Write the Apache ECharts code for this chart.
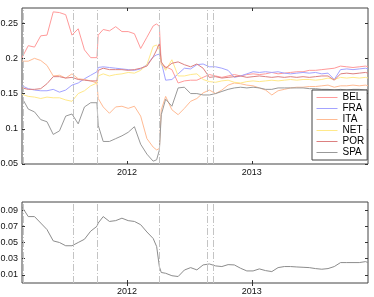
<!DOCTYPE html>
<html><head><meta charset="utf-8">
<script src="https://cdn.jsdelivr.net/npm/echarts@6/dist/echarts.min.js"></script>
<style>html,body{margin:0;padding:0;background:#fff}#c{width:374px;height:297px}</style>
</head><body><div id="c"></div>
<script>
// decimal years
const dates = [2011.16,2011.21,2011.26,2011.31,2011.36,2011.41,2011.46,2011.51,2011.56,2011.61,2011.66,2011.71,2011.76,2011.77,2011.81,2011.86,2011.91,2011.96,2012.01,2012.06,2012.11,2012.16,2012.21,2012.238,2012.26,2012.275,2012.31,2012.36,2012.41,2012.46,2012.51,2012.56,2012.61,2012.66,2012.71,2012.76,2012.81,2012.86,2012.91,2012.96,2013.01,2013.06,2013.11,2013.16,2013.21,2013.26,2013.31,2013.36,2013.41,2013.46,2013.51,2013.56,2013.61,2013.66,2013.71,2013.76,2013.81,2013.86,2013.91,2013.93];
const bel = [0.201,0.218,0.216,0.232,0.233,0.266,0.265,0.262,0.233,0.242,0.212,0.201,0.201,0.233,0.241,0.239,0.245,0.238,0.238,0.235,0.214,0.230,0.246,0.249,0.245,0.191,0.188,0.184,0.165,0.168,0.169,0.169,0.173,0.177,0.175,0.173,0.175,0.177,0.175,0.177,0.178,0.177,0.178,0.180,0.178,0.179,0.180,0.181,0.181,0.183,0.183,0.184,0.185,0.186,0.189,0.188,0.187,0.188,0.189,0.188];
const fra = [0.161,0.157,0.155,0.154,0.154,0.156,0.152,0.155,0.162,0.165,0.171,0.176,0.181,0.187,0.188,0.187,0.186,0.185,0.184,0.183,0.185,0.191,0.202,0.205,0.206,0.195,0.169,0.170,0.178,0.186,0.185,0.191,0.192,0.188,0.188,0.186,0.183,0.173,0.175,0.178,0.181,0.180,0.181,0.180,0.181,0.179,0.178,0.179,0.180,0.179,0.180,0.178,0.179,0.170,0.184,0.185,0.184,0.185,0.186,0.185];
const ita = [0.196,0.196,0.200,0.197,0.190,0.175,0.176,0.172,0.178,0.171,0.170,0.168,0.165,0.143,0.131,0.122,0.131,0.132,0.129,0.132,0.118,0.086,0.074,0.070,0.072,0.127,0.146,0.127,0.120,0.129,0.139,0.143,0.151,0.155,0.150,0.155,0.162,0.165,0.164,0.162,0.161,0.158,0.155,0.148,0.154,0.156,0.158,0.159,0.159,0.160,0.160,0.161,0.162,0.159,0.161,0.161,0.162,0.161,0.162,0.161];
const net = [0.149,0.146,0.145,0.143,0.145,0.144,0.144,0.141,0.139,0.150,0.154,0.161,0.165,0.175,0.178,0.175,0.177,0.178,0.180,0.179,0.183,0.191,0.217,0.219,0.212,0.193,0.183,0.198,0.175,0.175,0.177,0.178,0.170,0.167,0.166,0.168,0.169,0.166,0.165,0.167,0.168,0.167,0.168,0.169,0.168,0.169,0.170,0.169,0.170,0.170,0.169,0.170,0.172,0.170,0.173,0.172,0.173,0.172,0.173,0.172];
const por = [0.158,0.156,0.156,0.157,0.164,0.174,0.174,0.172,0.173,0.170,0.169,0.168,0.168,0.183,0.186,0.184,0.184,0.184,0.183,0.184,0.186,0.189,0.202,0.212,0.221,0.195,0.186,0.193,0.195,0.191,0.188,0.192,0.186,0.173,0.174,0.172,0.173,0.174,0.175,0.173,0.174,0.175,0.174,0.173,0.174,0.173,0.174,0.173,0.174,0.173,0.174,0.175,0.175,0.169,0.178,0.179,0.178,0.179,0.180,0.179];
const spa = [0.144,0.128,0.124,0.113,0.110,0.092,0.097,0.118,0.121,0.107,0.131,0.137,0.137,0.105,0.082,0.082,0.086,0.090,0.095,0.103,0.078,0.064,0.054,0.056,0.070,0.120,0.142,0.132,0.158,0.159,0.150,0.150,0.148,0.148,0.150,0.153,0.156,0.158,0.159,0.158,0.159,0.158,0.156,0.156,0.158,0.158,0.158,0.158,0.158,0.157,0.157,0.156,0.156,0.155,0.156,0.155,0.156,0.156,0.155,0.156];
const low = [0.094,0.082,0.082,0.074,0.066,0.052,0.050,0.046,0.046,0.050,0.054,0.064,0.070,0.074,0.082,0.076,0.077,0.080,0.077,0.076,0.072,0.063,0.055,0.045,0.020,0.013,0.012,0.009,0.008,0.016,0.019,0.0162,0.0223,0.0235,0.0211,0.0203,0.0227,0.0223,0.0182,0.0149,0.0149,0.0174,0.0153,0.0141,0.019,0.0203,0.0203,0.0198,0.0194,0.019,0.0178,0.017,0.0178,0.0203,0.0252,0.0252,0.0252,0.0252,0.0264,0.0252];
const events = [2011.168,2011.568,2011.76,2012.261,2012.637,2012.693];
const names = ['BEL','FRA','ITA','NET','POR','SPA'];
const colors = ['#ff9a9a','#a3a3ff','#ffbb94','#ffe98a','#dc8080','#999999'];
const xTicks = [2012, 2013];
const yTicksTop = [0.05, 0.1, 0.15, 0.2, 0.25];
const yTicksBot = [0.01, 0.03, 0.05, 0.07, 0.09];

const FONT = '"Liberation Sans", Arial, sans-serif';
const axCol = '#333';
function xAx(g, pos, showLab){
  return {gridIndex:g, type:'value', position:pos, min:2011.16, max:2013.93,
    axisLine:{show:false},
    axisTick:{show:true, inside:true, length:3, customValues:xTicks, lineStyle:{color:axCol}},
    axisLabel:{show:showLab, customValues:xTicks, margin:4, fontSize:9, fontFamily:FONT, color:'#111',
      formatter:v=>String(Math.round(v))},
    splitLine:{show:false}};
}
function yAx(g, pos, showLab, mn, mx, ticks){
  return {gridIndex:g, type:'value', position:pos, min:mn, max:mx,
    axisLine:{show:false},
    axisTick:{show:true, inside:true, length:3, customValues:ticks, lineStyle:{color:axCol}},
    axisLabel:{show:showLab, customValues:ticks, margin:4, fontSize:9, fontFamily:FONT, color:'#111',
      formatter:v=>String(v)},
    splitLine:{show:false}};
}
const zip = arr => dates.map((d,i)=>[d, arr[i]]);
const dataSets = [bel, fra, ita, net, por, spa];
const evLine = g => ({type:'line', xAxisIndex:g*2, yAxisIndex:g*2, data:[], silent:true,
  markLine:{silent:true, symbol:['none','none'], label:{show:false}, animation:false,
    lineStyle:{color:'#c4c4c4', width:1, type:[7,2,1,2]},
    data: events.map(e=>({xAxis:e}))}});
const series = [evLine(0)];
names.forEach((n,k)=>series.push({type:'line', name:n, xAxisIndex:0, yAxisIndex:0, data:zip(dataSets[k]),
  showSymbol:false, symbol:'none', color:colors[k], lineStyle:{width:1, color:colors[k]}, itemStyle:{color:colors[k]}}));
series.push(evLine(1));
series.push({type:'line', name:'low', xAxisIndex:2, yAxisIndex:2, data:zip(low), showSymbol:false, symbol:'none',
  lineStyle:{width:1, color:'#8c8c8c'}});

const chart = echarts.init(document.getElementById('c'), null, {renderer:'canvas'});
chart.setOption({
  animation:false,
  backgroundColor:'#fff',
  textStyle:{fontFamily:FONT},
  grid:[
    {left:22, top:8, width:346, height:156, show:true, borderColor:'#444', borderWidth:1, backgroundColor:'transparent', outerBoundsMode:'none', containLabel:false},
    {left:22, top:202, width:346, height:81, show:true, borderColor:'#444', borderWidth:1, backgroundColor:'transparent', outerBoundsMode:'none', containLabel:false}
  ],
  xAxis:[xAx(0,'bottom',true), xAx(0,'top',false), xAx(1,'bottom',true), xAx(1,'top',false)],
  yAxis:[yAx(0,'left',true,0.05,0.2715,yTicksTop), yAx(0,'right',false,0.05,0.2715,yTicksTop),
         yAx(1,'left',true,0,0.1,yTicksBot), yAx(1,'right',false,0,0.1,yTicksBot)],
  legend:{data:names,
    orient:'vertical', left:312, top:90, padding:[2,3,2,4], itemWidth:21, itemHeight:11, itemGap:0,
    lineStyle:{width:1}, itemStyle:{opacity:0},
    backgroundColor:'#fff', borderColor:'#444', borderWidth:1, borderRadius:0,
    textStyle:{fontSize:10, lineHeight:11, color:'#000', fontFamily:FONT}, selectedMode:false},
  series:series
});
</script></body></html>
